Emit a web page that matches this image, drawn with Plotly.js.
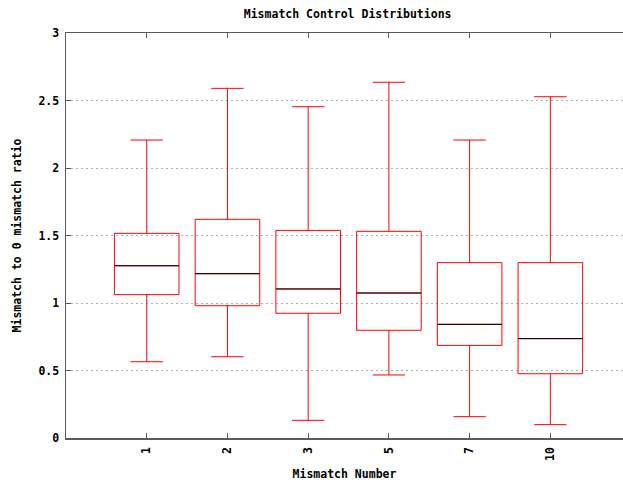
<!DOCTYPE html>
<html>
<head>
<meta charset="utf-8">
<script src="https://cdn.plot.ly/plotly-3.0.1.min.js"></script>
<style>html,body{margin:0;padding:0;background:#fff;}#chart{width:623px;height:482px;}</style>
</head>
<body>
<div id="chart"></div>
<script>
const categories = ['1', '2', '3', '5', '7', '10'];
const lowerWhisker = [0.565, 0.602, 0.131, 0.467, 0.158, 0.099];
const q1Values     = [1.062, 0.980, 0.924, 0.798, 0.686, 0.476];
const medianValues = [1.276, 1.217, 1.104, 1.074, 0.842, 0.736];
const q3Values     = [1.516, 1.620, 1.538, 1.531, 1.299, 1.299];
const upperWhisker = [2.207, 2.590, 2.454, 2.635, 2.207, 2.528];

const positions = categories.map((c, i) => i + 1);
const boxWidth = 0.8;

const medX = [], medY = [];
positions.forEach((p, i) => {
  medX.push(p - boxWidth / 2, p + boxWidth / 2, null);
  medY.push(medianValues[i], medianValues[i], null);
});

const fontFam = '"DejaVu Sans Mono", "Liberation Mono", monospace';
const axisCol = '#5a5a5a';

const traces = [
  {
    type: 'box',
    x: positions,
    q1: q1Values,
    median: medianValues,
    q3: q3Values,
    lowerfence: lowerWhisker,
    upperfence: upperWhisker,
    width: boxWidth,
    whiskerwidth: 0.5,
    boxpoints: false,
    fillcolor: 'rgba(0,0,0,0)',
    line: {color: '#ff0000', width: 1},
    hoverinfo: 'skip',
    showlegend: false
  },
  {
    type: 'scatter',
    mode: 'lines',
    x: medX,
    y: medY,
    line: {color: '#000000', width: 1},
    hoverinfo: 'skip',
    showlegend: false
  }
];

const layout = {
  width: 623,
  height: 482,
  margin: {l: 66, r: 0, t: 33, b: 44},
  paper_bgcolor: '#ffffff',
  plot_bgcolor: '#ffffff',
  font: {family: fontFam, size: 11, color: '#000000', weight: 'bold'},
  title: {
    text: 'Mismatch Control Distributions',
    x: 0.558, xanchor: 'center',
    y: 0.97, yanchor: 'middle',
    font: {family: fontFam, size: 11.5, color: '#000000', weight: 'bold'}
  },
  xaxis: {
    range: [0, 6.9],
    tickmode: 'array',
    tickvals: positions,
    ticktext: categories,
    tickangle: -90,
    ticks: 'inside',
    ticklen: 5,
    tickcolor: axisCol,
    ticklabelstandoff: 3,
    showline: true,
    linecolor: axisCol,
    linewidth: 1.5,
    mirror: 'ticks',
    showgrid: false,
    zeroline: false,
    tickfont: {family: fontFam, size: 11.5, color: '#000000', weight: 'bold'},
    title: {text: 'Mismatch Number', standoff: 10,
            font: {family: fontFam, size: 11.5, color: '#000000', weight: 'bold'}}
  },
  yaxis: {
    range: [0, 3],
    dtick: 0.5,
    tick0: 0,
    ticks: 'inside',
    ticklen: 5,
    tickcolor: axisCol,
    ticklabelstandoff: 3,
    showline: true,
    linecolor: axisCol,
    linewidth: 1.5,
    mirror: false,
    showgrid: true,
    gridcolor: '#b0b0b0',
    griddash: '2px,3px',
    gridwidth: 1,
    zeroline: false,
    tickfont: {family: fontFam, size: 11.5, color: '#000000', weight: 'bold'},
    title: {text: 'Mismatch to 0 mismatch ratio', standoff: 14,
            font: {family: fontFam, size: 11.5, color: '#000000', weight: 'bold'}}
  }
};

Plotly.newPlot('chart', traces, layout, {displayModeBar: false, staticPlot: true});
</script>
</body>
</html>
